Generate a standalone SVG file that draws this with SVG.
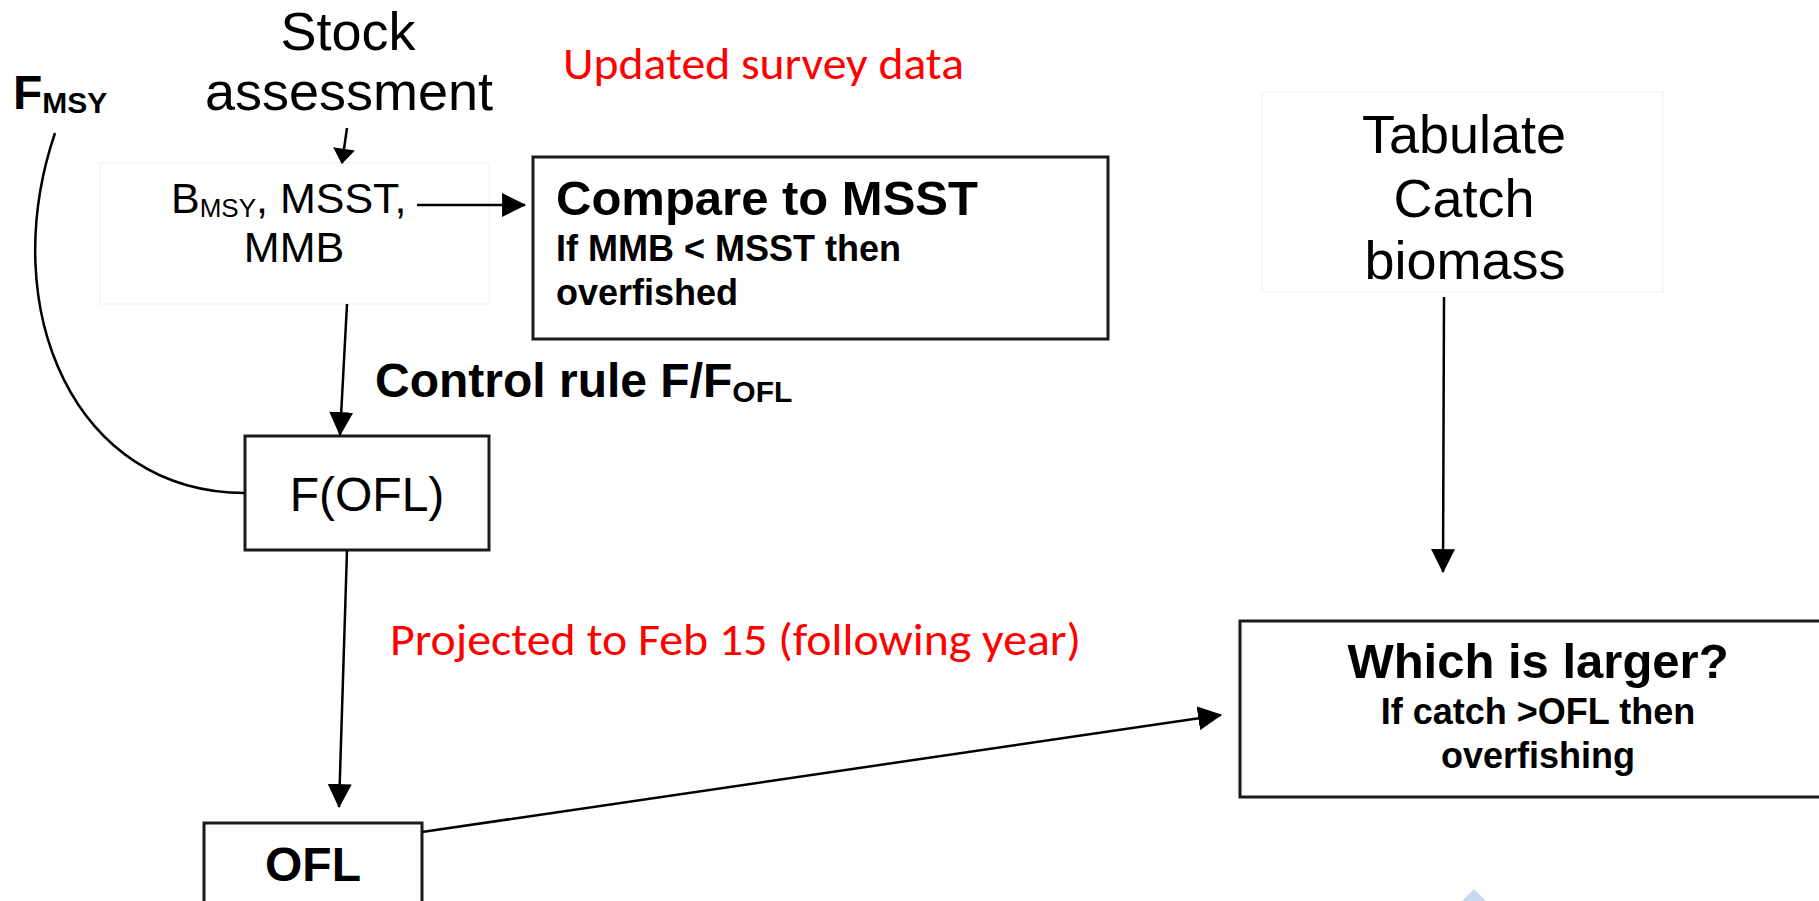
<svg xmlns="http://www.w3.org/2000/svg" width="1819" height="901" viewBox="0 0 1819 901">
  <style>
    .t { font-family: "Liberation Sans", Arial, sans-serif; fill: #000; }
    .b { font-weight: bold; }
    .red { font-family: Carlito, Lato, "Liberation Sans", sans-serif; fill: #ff0000; font-size: 45px; }
    .box { fill: #fff; stroke: #1a1a1a; stroke-width: 3; }
    .faint { fill: none; stroke: #f4f4f4; stroke-width: 1.5; }
    .ln { fill: none; stroke: #000; stroke-width: 2.5; }
  </style>
  <defs>
    <marker id="ah" markerUnits="userSpaceOnUse" markerWidth="24" markerHeight="24" viewBox="0 0 22 22" refX="21" refY="11" orient="auto">
      <path d="M0,0 L22,11 L0,22 z" fill="#000"/>
    </marker>
    <marker id="ahs" markerUnits="userSpaceOnUse" markerWidth="22" markerHeight="22" viewBox="0 0 14 20" refX="13" refY="10" orient="auto">
      <path d="M0,0 L14,10 L0,20 z" fill="#000"/>
    </marker>
  </defs>
  <rect width="1819" height="901" fill="#fff"/>

  <g id="fmsy">
    <text class="t b" x="13" y="109" font-size="48">F<tspan font-size="30" dy="4">MSY</tspan></text>
  </g>

  <g id="stock-assessment">
    <text class="t" x="348" y="50" font-size="54" text-anchor="middle">Stock</text>
    <text class="t" x="349" y="110" font-size="54" text-anchor="middle">assessment</text>
  </g>

  <g id="updated-survey">
    <text class="red" x="563" y="79" textLength="401" lengthAdjust="spacingAndGlyphs">Updated survey data</text>
  </g>

  <g id="reference-points">
    <rect class="faint" x="100" y="163" width="389" height="141"/>
    <text class="t" x="171" y="213" font-size="43">B<tspan font-size="26" dy="4">MSY</tspan><tspan dy="-4">, MSST,</tspan></text>
    <text class="t" x="294" y="262" font-size="43" text-anchor="middle">MMB</text>
  </g>

  <g id="compare-msst">
    <rect class="box" x="533" y="157" width="575" height="182"/>
    <text class="t b" x="556" y="215" font-size="49">Compare to MSST</text>
    <text class="t b" x="556" y="261" font-size="36">If MMB &lt; MSST then</text>
    <text class="t b" x="556" y="305" font-size="36">overfished</text>
  </g>

  <g id="control-rule">
    <text class="t b" x="375" y="397" font-size="48">Control rule F/F<tspan font-size="30" dy="5">OFL</tspan></text>
  </g>

  <g id="f-ofl">
    <rect class="box" x="245" y="436" width="244" height="114"/>
    <text class="t" x="367" y="511" font-size="48" text-anchor="middle">F(OFL)</text>
  </g>

  <g id="projected">
    <text class="red" x="390" y="655" textLength="691" lengthAdjust="spacingAndGlyphs">Projected to Feb 15 (following year)</text>
  </g>

  <g id="ofl">
    <rect class="box" x="204" y="823" width="218" height="100"/>
    <text class="t b" x="313" y="881" font-size="48" text-anchor="middle">OFL</text>
  </g>

  <g id="tabulate">
    <rect class="faint" x="1262" y="92" width="401" height="200"/>
    <text class="t" x="1464" y="153" font-size="54" text-anchor="middle">Tabulate</text>
    <text class="t" x="1464" y="217" font-size="54" text-anchor="middle">Catch</text>
    <text class="t" x="1465" y="279" font-size="54" text-anchor="middle">biomass</text>
  </g>

  <g id="which-larger">
    <rect class="box" x="1240" y="621" width="590" height="176"/>
    <text class="t b" x="1538" y="678" font-size="49" text-anchor="middle">Which is larger?</text>
    <text class="t b" x="1538" y="724" font-size="36" text-anchor="middle">If catch &gt;OFL then</text>
    <text class="t b" x="1538" y="768" font-size="36" text-anchor="middle">overfishing</text>
  </g>

  <g id="connectors">
    <line class="ln" x1="347" y1="128" x2="342" y2="163" marker-end="url(#ahs)"/>
    <line class="ln" x1="417" y1="205" x2="525" y2="205" marker-end="url(#ah)"/>
    <line class="ln" x1="347" y1="304" x2="340" y2="435" marker-end="url(#ah)"/>
    <line class="ln" x1="347" y1="550" x2="339" y2="807" marker-end="url(#ah)"/>
    <line class="ln" x1="422" y1="832" x2="1221" y2="715" marker-end="url(#ah)"/>
    <line class="ln" x1="1444" y1="297" x2="1443" y2="572" marker-end="url(#ah)"/>
    <path class="ln" stroke-width="2" d="M55,133 C-5,310 75,493 245,493"/>
  </g>

  <polygon points="1474,889 1462,901 1486,901" fill="#c9d7f0"/>
</svg>
